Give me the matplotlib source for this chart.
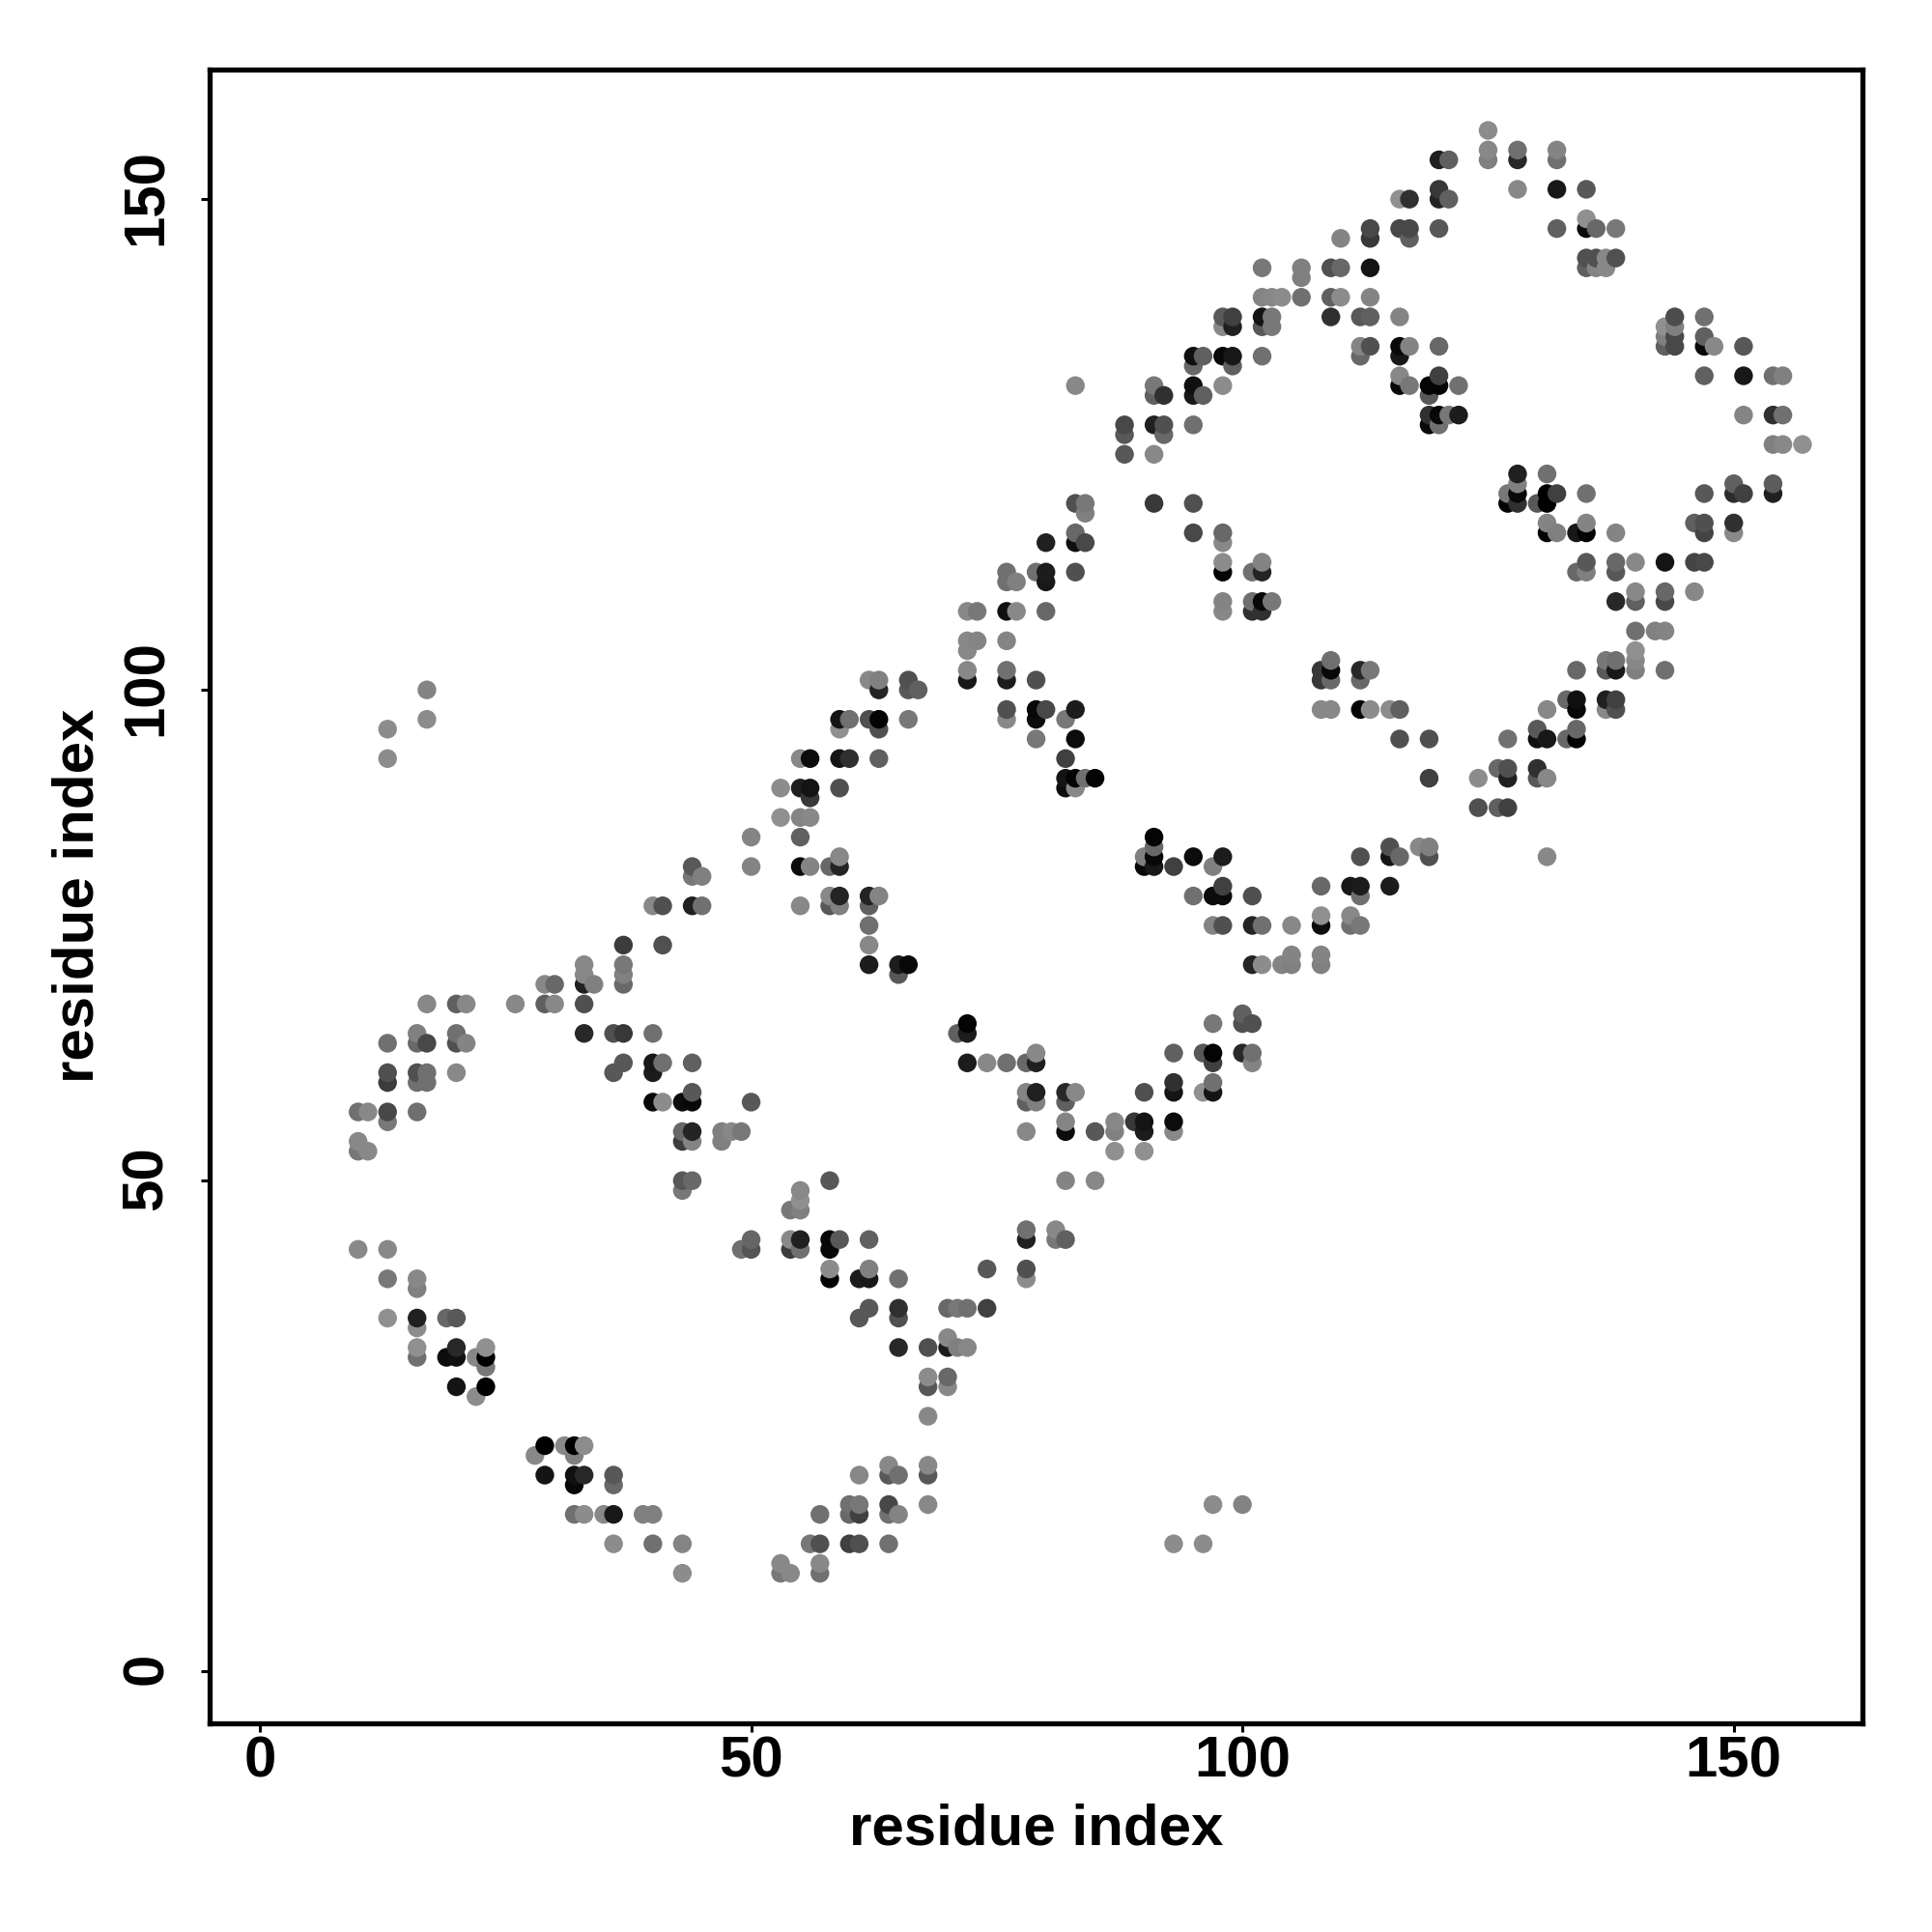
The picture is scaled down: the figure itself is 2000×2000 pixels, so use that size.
import matplotlib
matplotlib.use("Agg")
import matplotlib.pyplot as plt
from matplotlib.transforms import ScaledTranslation

plt.rcParams['font.family'] = ['Liberation Sans', 'DejaVu Sans']

column_x = [10, 11, 13, 16, 17, 19, 20, 21, 22, 23, 26, 28, 29, 30, 31, 32, 33, 34, 35, 36, 37, 39, 40, 41, 43, 44, 45, 47, 48, 49,
            50, 53, 54, 55, 56, 57, 58, 59, 60, 61, 62, 63, 64, 65, 66, 67, 68, 70, 71, 72, 73, 74, 76, 77, 78, 79, 80, 81, 82, 83,
            84, 85, 87, 88, 89, 90, 91, 92, 93, 95, 96, 97, 98, 99, 100, 101, 102, 103, 104, 105, 106, 108, 109, 110, 111, 112, 113, 115, 116, 117,
            118, 119, 120, 121, 122, 124, 125, 126, 127, 128, 130, 131, 132, 133, 134, 135, 136, 137, 138, 140, 142, 143, 144, 146, 147, 148, 150, 151, 154, 155, 157]

column_y = [
    [43, 53, 54, 57], [53, 57], [36, 40, 43, 56, 57, 60, 61, 64, 93, 96], [32, 33, 35, 36, 39, 40, 57, 60, 61, 64, 65],
    [60, 61, 64, 68, 97, 100], [32, 36], [29, 32, 33, 36, 61, 64, 65, 68], [64, 68], [28, 32], [29, 31, 32, 33], [68], [22],
    [20, 23, 68, 70], [68, 70], [23], [16, 19, 20, 22, 23], [16, 20, 23, 65, 68, 70, 71, 72], [70], [16],
    [13, 16, 19, 20, 61, 65], [62, 65, 70, 71, 72, 74], [16], [13, 16, 58, 61, 62, 65, 78], [58, 62, 74, 78],
    [10, 13, 49, 50, 54, 55, 58], [50, 54, 55, 58, 59, 62, 78, 81, 82], [78, 81], [54, 55], [55], [43, 55],
    [43, 44, 58, 82, 85], [10, 11, 87, 90], [10, 43, 44, 47], [43, 44, 47, 48, 49, 78, 82, 85, 87, 90, 93],
    [13, 82, 87, 89, 90, 93], [10, 11, 13, 16], [40, 41, 43, 44, 50, 78, 79, 82], [44, 78, 79, 82, 83, 90, 93, 96, 97],
    [13, 16, 17, 93, 97], [13, 16, 17, 20, 36, 40], [37, 40, 41, 44, 72, 74, 76, 78, 79, 97, 101], [79, 93, 96, 97, 100, 101],
    [13, 16, 17, 20, 21], [16, 20, 33, 36, 37, 40, 71, 72], [72, 97, 100, 101], [100], [17, 20, 21, 26, 29, 30, 33],
    [29, 30, 33, 34, 37], [33, 37, 65], [33, 37, 62, 65, 66, 101, 102, 104, 105, 108], [105, 108], [37, 41, 62],
    [62, 97, 98, 101, 102, 105, 108, 111, 112], [108, 111], [40, 41, 44, 45, 55, 58, 59, 62], [58, 59, 62, 63, 95, 97, 98, 101, 112],
    [98, 108, 111, 112, 115], [44, 45], [44, 50, 55, 56, 58, 59, 90, 91, 93, 97], [59, 90, 91, 95, 98, 112, 115, 116, 119, 131],
    [91, 115, 118, 119], [50, 55, 91], [53, 55, 56], [124, 126, 127], [56], [53, 55, 56, 59, 82, 83],
    [82, 83, 84, 85, 119, 124, 127, 130, 131], [126, 127, 130], [13, 55, 56, 59, 60, 63, 82], [79, 83, 116, 119, 127, 130, 131, 133, 134],
    [13, 59, 63, 130, 134], [17, 59, 60, 62, 63, 66, 76, 79, 82], [76, 79, 80, 83, 108, 109, 112, 113, 115, 116, 131, 134, 137, 138],
    [133, 134, 137, 138], [17, 63, 66, 67], [62, 63, 66, 72, 76, 79, 108, 109, 112],
    [72, 76, 108, 109, 112, 113, 134, 137, 138, 140, 143], [109, 137, 138, 140], [72, 140], [72, 73, 76], [140, 142, 143],
    [72, 73, 76, 77, 80, 98, 101, 102], [98, 101, 102, 103, 138, 140, 143], [140, 143, 146], [76, 77, 80],
    [76, 79, 80, 83, 98, 101, 102, 134, 135, 138], [98, 102, 135, 138, 140, 143, 146, 147], [80, 83, 84, 98],
    [83, 95, 98, 131, 132, 134, 135, 138, 147, 150], [131, 135, 146, 147, 150], [84], [83, 84, 91, 95, 127, 128, 130, 131],
    [127, 128, 131, 132, 135, 147, 150, 151, 154], [128, 150, 154], [128, 131], [88, 91], [154, 155, 157], [88, 92],
    [88, 91, 92, 95, 119, 120], [119, 120, 121, 122, 151, 154, 155], [91, 92, 95, 96, 119], [83, 91, 95, 98, 116, 117, 119, 120, 122],
    [116, 120, 147, 151, 154, 155], [95, 99], [95, 96, 98, 99, 102, 112, 116], [112, 113, 116, 117, 120, 143, 144, 147, 148, 151],
    [143, 144, 147], [98, 99, 102, 103, 143, 144], [98, 99, 102, 103, 109, 112, 113, 116, 144, 147],
    [102, 103, 104, 106, 109, 110, 113], [106], [102, 106, 109, 110, 113, 135, 136, 137], [135, 136, 137, 138], [110, 113, 117],
    [113, 116, 117, 120, 132, 135, 136, 138], [135], [116, 117, 120, 121], [120, 128, 132, 135], [120, 121, 125, 128, 132],
    [125, 128, 132], [125],
]

column_gray = [
    [0x88, 0x78, 0x88, 0x70], [0x88, 0x88], [0x90, 0x78, 0x88, 0x78, 0x48, 0x3c, 0x50, 0x70, 0x8c, 0x8c],
    [0x70, 0x90, 0x8c, 0x20, 0x80, 0x88, 0x70, 0x70, 0x50, 0x68, 0x80],
    [0x70, 0x70, 0x48, 0x88, 0x8c, 0x84], [0x0c, 0x68], [0x14, 0x10, 0x28, 0x58, 0x88, 0x50, 0x70, 0x60], [0x84, 0x88], [0x8c, 0x88],
    [0x00, 0x78, 0x00, 0x90], [0x88], [0x88],
    [0x14, 0x00, 0x60, 0x88], [0x88, 0x68], [0x88], [0x70, 0x08, 0x10, 0x80, 0x00], [0x8c, 0x28, 0x8c, 0x28, 0x50, 0x20, 0x88, 0x88], [0x80], [0x88],
    [0x8c, 0x18, 0x68, 0x58, 0x58, 0x50], [0x58, 0x38, 0x68, 0x80, 0x78, 0x3c], [0x80], [0x70, 0x80, 0x08, 0x1c, 0x18, 0x70, 0x88], [0x8c, 0x70, 0x50, 0x50],
    [0x8c, 0x84, 0x78, 0x58, 0x3c, 0x68, 0x0c], [0x68, 0x84, 0x24, 0x08, 0x58, 0x60, 0x20, 0x78, 0x58], [0x70, 0x80], [0x80, 0x80], [0x88], [0x70, 0x78],
    [0x55, 0x66, 0x58, 0x84, 0x84], [0x78, 0x88, 0x90, 0x8c], [0x88, 0x3c, 0x88, 0x78], [0x70, 0x20, 0x80, 0x90, 0x88, 0x88, 0x0c, 0x60, 0x84, 0x20, 0x88],
    [0x78, 0x84, 0x88, 0x38, 0x14, 0x0c], [0x70, 0x88, 0x50, 0x70], [0x04, 0x8c, 0x08, 0x08, 0x58, 0x58, 0x88, 0x68], [0x58, 0x80, 0x24, 0x24, 0x88, 0x50, 0x14, 0x90, 0x14],
    [0x40, 0x68, 0x70, 0x30, 0x70], [0x50, 0x40, 0x78, 0x88, 0x58, 0x1c], [0x58, 0x18, 0x80, 0x60, 0x1c, 0x88, 0x70, 0x60, 0x24, 0x50, 0x88], [0x84, 0x60, 0x50, 0x04, 0x24, 0x80],
    [0x70, 0x70, 0x48, 0x58, 0x88], [0x84, 0x70, 0x28, 0x50, 0x30, 0x70, 0x58, 0x1c], [0x08, 0x78, 0x58, 0x50], [0x60], [0x88, 0x58, 0x88, 0x88, 0x58, 0x8c, 0x50],
    [0x88, 0x68, 0x1c, 0x88, 0x68], [0x80, 0x78, 0x60], [0x88, 0x70, 0x1c, 0x1c, 0x04, 0x18, 0x88, 0x88, 0x88, 0x88], [0x84, 0x78], [0x40, 0x58, 0x88],
    [0x70, 0x88, 0x50, 0x1c, 0x70, 0x84, 0x10, 0x70, 0x70], [0x88, 0x80], [0x8c, 0x50, 0x20, 0x70, 0x88, 0x60, 0x84, 0x68], [0x80, 0x20, 0x20, 0x88, 0x78, 0x0c, 0x08, 0x50, 0x70],
    [0x48, 0x68, 0x18, 0x1c, 0x20], [0x78, 0x88], [0x60, 0x84, 0x0c, 0x84, 0x60, 0x28, 0x0c, 0x14, 0x40, 0x78], [0x88, 0x88, 0x04, 0x0c, 0x1c, 0x50, 0x10, 0x68, 0x50, 0x88],
    [0x70, 0x48, 0x80, 0x78], [0x88, 0x58, 0x04], [0x90, 0x80, 0x88], [0x58, 0x58, 0x48], [0x38], [0x90, 0x1c, 0x14, 0x50, 0x08, 0x80],
    [0x18, 0x08, 0x68, 0x04, 0x38, 0x88, 0x20, 0x60, 0x78], [0x68, 0x50, 0x30], [0x8c, 0x88, 0x0c, 0x14, 0x30, 0x60, 0x40], [0x70, 0x0c, 0x48, 0x50, 0x70, 0x18, 0x10, 0x68, 0x10],
    [0x8c, 0x90, 0x58, 0x60, 0x60], [0x8c, 0x14, 0x70, 0x40, 0x04, 0x78, 0x84, 0x0c, 0x80], [0x50, 0x0c, 0x40, 0x1c, 0x88, 0x84, 0x04, 0x8c, 0x88, 0x68, 0x8c, 0x08, 0x88, 0x58],
    [0x60, 0x18, 0x20, 0x40], [0x84, 0x28, 0x50, 0x60], [0x84, 0x70, 0x50, 0x24, 0x24, 0x50, 0x30, 0x70, 0x70],
    [0x8c, 0x70, 0x30, 0x08, 0x24, 0x84, 0x70, 0x58, 0x14, 0x84, 0x78], [0x78, 0x78, 0x78, 0x88], [0x84, 0x8c], [0x80, 0x84, 0x88], [0x70, 0x80, 0x80],
    [0x80, 0x84, 0x0c, 0x90, 0x68, 0x88, 0x38, 0x38], [0x88, 0x68, 0x08, 0x70, 0x30, 0x60, 0x50], [0x8c, 0x68, 0x84], [0x70, 0x88, 0x18],
    [0x78, 0x70, 0x1c, 0x50, 0x04, 0x68, 0x28, 0x68, 0x84, 0x58], [0x8c, 0x78, 0x50, 0x60, 0x84, 0x14, 0x38, 0x48], [0x1c, 0x14, 0x50, 0x8c],
    [0x68, 0x50, 0x60, 0x08, 0x88, 0x18, 0x08, 0x84, 0x48, 0x90], [0x78, 0x84, 0x60, 0x48, 0x30], [0x88], [0x50, 0x80, 0x40, 0x50, 0x08, 0x30, 0x58, 0x04],
    [0x70, 0x08, 0x04, 0x40, 0x68, 0x58, 0x24, 0x38, 0x20], [0x78, 0x60, 0x60], [0x1c, 0x70], [0x50, 0x8c], [0x80, 0x88, 0x8c], [0x60, 0x68],
    [0x40, 0x20, 0x50, 0x70, 0x04, 0x78], [0x30, 0x08, 0x80, 0x20, 0x88, 0x28, 0x70], [0x58, 0x30, 0x10, 0x58, 0x58], [0x88, 0x88, 0x18, 0x88, 0x04, 0x84, 0x00, 0x00, 0x70],
    [0x80, 0x40, 0x60, 0x18, 0x70, 0x84], [0x68, 0x68], [0x04, 0x68, 0x08, 0x10, 0x68, 0x68, 0x18], [0x80, 0x58, 0x04, 0x84, 0x70, 0x60, 0x50, 0x0c, 0x90, 0x58],
    [0x84, 0x50, 0x68], [0x88, 0x20, 0x58, 0x78, 0x88, 0x88], [0x50, 0x40, 0x18, 0x70, 0x28, 0x58, 0x68, 0x84, 0x50, 0x78],
    [0x80, 0x88, 0x90, 0x70, 0x60, 0x88, 0x88], [0x80], [0x70, 0x84, 0x48, 0x68, 0x14, 0x60, 0x80, 0x90], [0x48, 0x48, 0x80, 0x4c], [0x88, 0x44, 0x60],
    [0x48, 0x44, 0x50, 0x58, 0x60, 0x08, 0x60, 0x70], [0x88], [0x88, 0x30, 0x2c, 0x60], [0x40, 0x84, 0x18, 0x58], [0x20, 0x5c, 0x80, 0x30, 0x70],
    [0x88, 0x70, 0x80], [0x90],
]

tick_values = [0, 50, 100, 150]
axis_label = "residue index"

points = sorted(
    (x, y, g)
    for x, ys, gs in zip(column_x, column_y, column_gray)
    for y, g in zip(ys, gs)
)
px = [p[0] for p in points]
py = [p[1] for p in points]
pc = [(p[2] / 255,) * 3 for p in points]

W = 2000
fig = plt.figure(figsize=(20, 20), dpi=100, facecolor='white')
ax = fig.add_axes([216.5 / W, 1 - 1783.7 / W, (1928 - 216.5) / W, (1783.7 - 72) / W])
ax.scatter(px, py, s=195, c=pc, linewidths=0, zorder=3, clip_on=True)

ax.set_xlim(-5.16, 163.1)
ax.set_ylim(-5.26, 163.2)
ax.set_xticks(tick_values)
ax.set_yticks(tick_values)
ax.tick_params(axis='both', length=6.5, width=2.2, labelsize=43.2, color='black')
ax.tick_params(axis='x', pad=2.5)
ax.tick_params(axis='y', pad=20)
up = ScaledTranslation(0, 1.8 / 72, fig.dpi_scale_trans)
for lab in ax.get_xticklabels():
    lab.set_fontweight('bold')
for lab in ax.get_yticklabels():
    lab.set_fontweight('bold')
    lab.set_rotation(90)
    lab.set_va('center')
    lab.set_transform(lab.get_transform() + up)
for s in ax.spines.values():
    s.set_linewidth(3.8)

fig.text(1073 / W, 1 - 1894.5 / W, axis_label, fontsize=43.2, fontweight='bold', ha='center', va='center')
fig.text(81.5 / W, 1 - 927 / W, axis_label, fontsize=43.2, fontweight='bold', ha='center', va='center', rotation=90)

fig.savefig('out.png', dpi=100, facecolor='white')
